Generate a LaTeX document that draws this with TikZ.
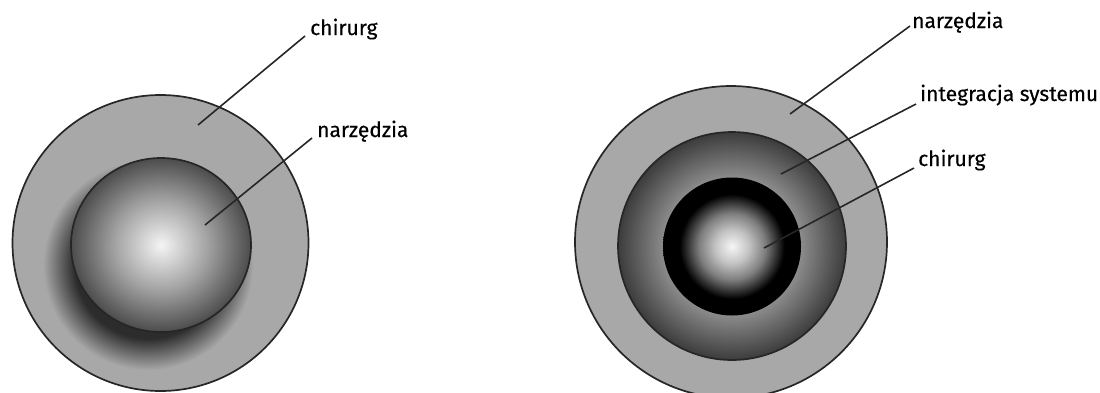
\documentclass[tikz,border=0pt]{standalone}
\usepackage{fontspec}
\setmainfont{Fira Sans}[FakeBold=0.35]
\definecolor{ringgray}{HTML}{A8A8A8}
\definecolor{outline}{HTML}{262626}
\definecolor{sphhi}{HTML}{F4F4F4}
\definecolor{sphmid}{HTML}{A2A2A2}
\definecolor{sphedge}{HTML}{4C4C4C}
\definecolor{shdark}{HTML}{2C2C2C}
\definecolor{shmid}{HTML}{6E6E6E}
\definecolor{ringin}{HTML}{B4B4B4}
\definecolor{ringmid}{HTML}{8C8C8C}
\definecolor{ringout}{HTML}{3C3C3C}
\definecolor{corehi}{HTML}{F6F6F6}
\definecolor{corea}{HTML}{C4C4C4}
\definecolor{coreb}{HTML}{7E7E7E}
\pgfdeclareradialshading{sphereL}{\pgfpoint{0bp}{0bp}}{color(0bp)=(sphhi); color(13bp)=(sphmid); color(25bp)=(sphedge); color(50bp)=(sphedge)}
\pgfdeclareradialshading{shadowL}{\pgfpoint{0bp}{0bp}}{color(0bp)=(shdark); color(17.5bp)=(shdark); color(21.5bp)=(shmid); color(25bp)=(ringgray); color(50bp)=(ringgray)}
\pgfdeclareradialshading{ringM}{\pgfpoint{0bp}{0bp}}{color(0bp)=(ringin); color(15bp)=(ringmid); color(25bp)=(ringout); color(50bp)=(ringout)}
\pgfdeclareradialshading{coreR}{\pgfpoint{0bp}{0bp}}{color(0bp)=(corehi); color(6bp)=(corea); color(12bp)=(coreb); color(19bp)=(black); color(25bp)=(black); color(50bp)=(black)}
\tikzset{
  rim/.style={draw=outline, line width=1.7pt},
  leader/.style={draw=outline, line width=1.6pt},
  lbl/.style={anchor=base west, inner sep=0pt, font=\fontsize{21}{25}\selectfont, text=black}
}
\begin{document}
\begin{tikzpicture}[x=1pt, y=-1pt]
\useasboundingbox (0,0) rectangle (1100,392);
% left figure
\path[fill=ringgray] (160.5,243) circle [radius=148pt];
\shade[shading=shadowL] (148,265) circle [radius=105pt];
\path[rim] (160.5,243) circle [radius=148pt];
\shade[shading=sphereL, rim] (161,245) ellipse [x radius=90pt, y radius=87pt];
\node[lbl] (lchir) at (310,35) {chirurg};
\node[lbl] (lnarz) at (317,137) {narzędzia};
\coordinate (lchirpt) at (198,125);
\coordinate (lnarzpt) at (205,225);
\draw[leader] (lchirpt) -- ([xshift=-5pt,yshift=-1pt]lchir.base west);
\draw[leader] (lnarzpt) -- ([xshift=-5pt,yshift=-1pt]lnarz.base west);
% right figure
\path[fill=ringgray, rim] (731,242) circle [radius=156pt];
\shade[shading=ringM, rim] (732,246) circle [radius=114pt];
\shade[shading=coreR] (732,246.5) circle [radius=69pt];
\node[lbl] (rnarz) at (912,28) {narzędzia};
\node[lbl] (rinteg) at (920,101) {integracja systemu};
\node[lbl] (rchir) at (918,166) {chirurg};
\coordinate (rnarzpt) at (790,114);
\coordinate (rintegpt) at (781,174);
\coordinate (rchirpt) at (764,248);
\draw[leader] (rnarzpt) -- ([xshift=-2pt,yshift=2pt]rnarz.base west);
\draw[leader] (rintegpt) -- ([xshift=-4pt,yshift=-3pt]rinteg.base west);
\draw[leader] (rchirpt) -- ([xshift=-4pt,yshift=-2pt]rchir.base west);
\end{tikzpicture}
\end{document}
